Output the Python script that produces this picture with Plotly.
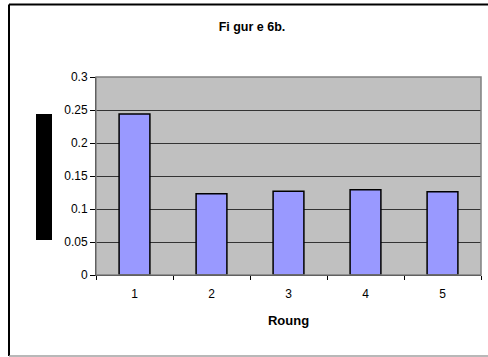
import plotly.graph_objects as go

# Data
rounds = ["1", "2", "3", "4", "5"]
values = [0.244, 0.123, 0.127, 0.129, 0.126]
y_ticks = [0, 0.05, 0.1, 0.15, 0.2, 0.25, 0.3]
y_tick_text = ["0", "0.05", "0.1", "0.15", "0.2", "0.25", "0.3"]

W, H = 488, 357
L, R, T, B = 96, 7, 77, 82
pw, ph = W - L - R, H - T - B


def px(x):
    return (x - L) / pw


def py(y):
    return (H - B - y) / ph


fig = go.Figure(
    go.Bar(
        x=rounds,
        y=values,
        marker=dict(color="#9999FF", line=dict(color="black", width=1.5)),
    )
)

font = "Liberation Sans, Arial, sans-serif"

fig.update_layout(
    width=W,
    height=H,
    margin=dict(l=L, r=R, t=T, b=B),
    paper_bgcolor="white",
    plot_bgcolor="#C0C0C0",
    bargap=0.6,
    showlegend=False,
    font=dict(family=font, size=12, color="black"),
    title=dict(
        text="<b>Fi gur e 6b.</b>",
        x=252 / W,
        xanchor="center",
        y=1 - 27 / H,
        yanchor="middle",
        font=dict(family=font, size=12.5, color="black"),
    ),
    xaxis=dict(
        type="category",
        tickson="boundaries",
        ticks="outside",
        ticklen=4,
        tickcolor="black",
        showline=True,
        linecolor="black",
        linewidth=1,
        showgrid=False,
        tickfont=dict(size=12),
        ticklabelstandoff=8,
        title=dict(text="<b>Roung</b>", font=dict(size=13), standoff=15),
    ),
    yaxis=dict(
        range=[0, 0.3],
        tickvals=y_ticks,
        ticktext=y_tick_text,
        ticks="outside",
        ticklen=5,
        tickcolor="black",
        showline=True,
        linecolor="black",
        linewidth=1,
        showgrid=True,
        gridcolor="#333333",
        gridwidth=1,
        zeroline=False,
        tickfont=dict(size=12),
    ),
    shapes=[
        # plot area border
        dict(type="rect", xref="paper", yref="paper", x0=0, y0=0, x1=1, y1=1,
             line=dict(color="#808080", width=1.5), layer="above"),
        # chart area border
        dict(type="line", xref="paper", yref="paper", x0=px(9), x1=px(488),
             y0=py(4.5), y1=py(4.5), line=dict(color="black", width=2)),
        dict(type="line", xref="paper", yref="paper", x0=px(9), x1=px(9),
             y0=py(4.5), y1=py(356), line=dict(color="black", width=2)),
        dict(type="line", xref="paper", yref="paper", x0=px(9), x1=px(488),
             y0=py(356), y1=py(356), line=dict(color="#A0A0A0", width=1.5)),
        # axis title block
        dict(type="rect", xref="paper", yref="paper", x0=px(36), x1=px(52),
             y0=py(240), y1=py(114), fillcolor="black", line=dict(width=0)),
    ],
)

fig.write_html("out.html")
